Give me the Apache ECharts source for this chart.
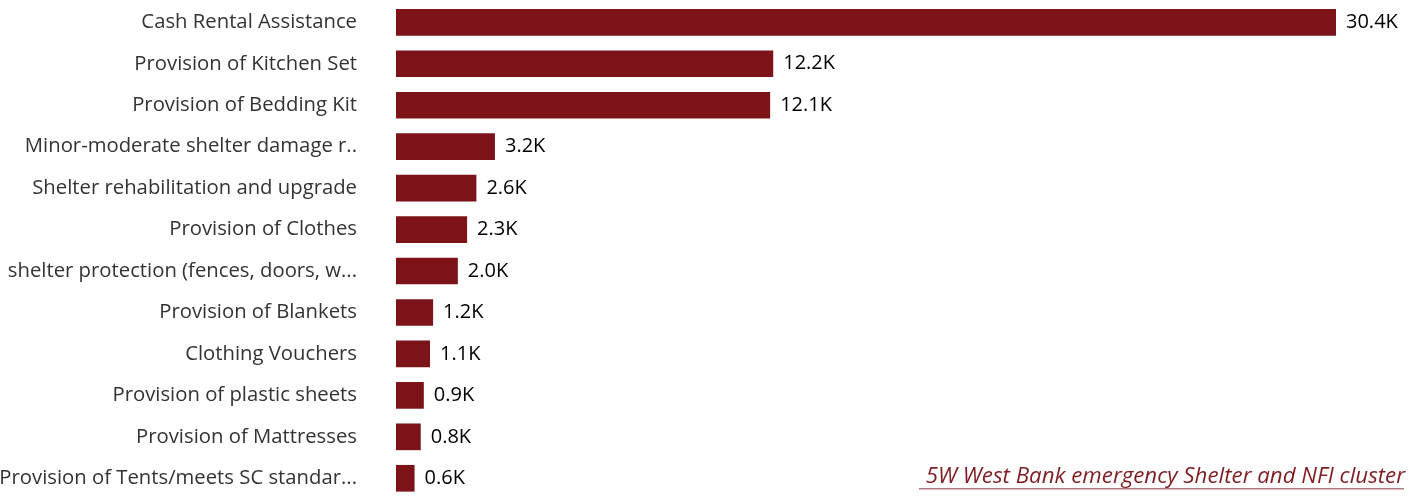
<!DOCTYPE html>
<html><head><meta charset="utf-8">
<script src="https://cdn.jsdelivr.net/npm/echarts@6/dist/echarts.min.js"></script>
<style>html,body{margin:0;padding:0;background:#fff;}#c{width:1425px;height:497px;}</style>
</head><body><div id="c"></div>
<script>
const categories = [
  "Cash Rental Assistance",
  "Provision of Kitchen Set",
  "Provision of Bedding Kit",
  "Minor-moderate shelter damage r..",
  "Shelter rehabilitation and upgrade",
  "Provision of Clothes",
  "shelter protection (fences, doors, w...",
  "Provision of Blankets",
  "Clothing Vouchers",
  "Provision of plastic sheets",
  "Provision of Mattresses",
  "Provision of Tents/meets SC standar..."
];
const values = [30400, 12200, 12100, 3200, 2600, 2300, 2000, 1200, 1100, 900, 800, 600];
const sourceText = " 5W West Bank emergency Shelter and NFI cluster";

const chart = echarts.init(document.getElementById('c'));
chart.setOption({
  animation: false,
  grid: { left: 396, right: 89, top: 1.6, height: 497.4, containLabel: false, outerBoundsMode: 'none' },
  xAxis: { type: 'value', min: 0, max: 30400, show: false },
  yAxis: {
    type: 'category', data: categories, inverse: true,
    axisLine: { show: false }, axisTick: { show: false },
    axisLabel: { margin: 39, fontSize: 20.3, color: '#333333', fontFamily: 'Open Sans' }
  },
  series: [{
    type: 'bar', data: values, barCategoryGap: '35.6%',
    itemStyle: { color: '#7B1319' },
    label: {
      show: true, position: 'right', distance: 10,
      fontSize: 20, color: '#000', fontFamily: 'Open Sans',
      formatter: p => (p.value / 1000).toFixed(1) + 'K'
    }
  }],
  graphic: [
    { type: 'text', right: 20, top: 466,
      style: { text: sourceText, fontSize: 22.3, fontStyle: 'italic', fontFamily: 'Open Sans', fill: '#7E1D22' } },
    { type: 'rect', left: 919, top: 488, shape: { width: 485, height: 1.5 },
      style: { fill: '#B07A7D' } }
  ]
});
</script></body></html>
